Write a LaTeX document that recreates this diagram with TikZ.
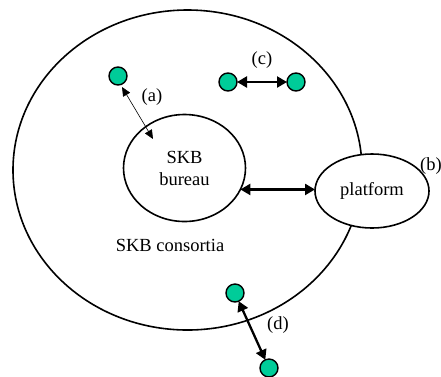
\documentclass[tikz,border=0pt]{standalone}
\usepackage{fontspec}
\setmainfont{Liberation Serif}
\usetikzlibrary{shapes.geometric,arrows.meta,calc}
\definecolor{dotgreen}{RGB}{0,204,153}
\begin{document}
\begin{tikzpicture}[x=1pt,y=-1pt,
  lbl/.style={font=\fontsize{18.5}{22}\selectfont, inner sep=0pt, align=center},
  oval/.style={ellipse, draw, line width=1.6pt, inner sep=0pt, outer sep=0pt},
  gdot/.style={circle, draw, fill=dotgreen, line width=1.4pt, minimum size=18pt, inner sep=0pt, outer sep=0pt},
  thick arrow/.style={line width=2.3pt, {Triangle[length=10pt,width=11pt]}-{Triangle[length=10pt,width=11pt]}},
  thin arrow/.style={line width=0.6pt, {Triangle[length=9pt,width=8pt]}-{Triangle[length=9pt,width=8pt]}}]
\useasboundingbox (0,0) rectangle (441,376);
\node[oval, minimum width=349pt, minimum height=320pt] (outer) at (187.5,170) {};
\node[oval, minimum width=122pt, minimum height=107pt, lbl] (bureau) at (184.5,168) {SKB\\bureau};
\node[oval, fill=white, minimum width=114pt, minimum height=74pt, lbl] (platform) at (372,191) {platform};
\node[lbl] (cons) at (170,245) {SKB consortia};
\node[gdot] (adot) at (118,76) {};
\node[gdot] (c1) at (228,82) {};
\node[gdot] (c2) at (296,82) {};
\node[gdot] (d1) at (235,293) {};
\node[gdot] (d2) at (269,368) {};
\node[lbl] (la) at (152,97) {(a)};
\node[lbl] (lb) at (431,166) {(b)};
\node[lbl] (lc) at (262,60) {(c)};
\node[lbl] (ld) at (278,325) {(d)};
\coordinate (astart) at (122,87);
\coordinate (aend) at (153,139);
\draw[thin arrow] (astart) -- (aend);
\draw[thick arrow] (c1) -- (c2);
\draw[thick arrow] (bureau.-21) -- (bureau.-21 -| platform.west);
\draw[thick arrow] (d1) -- (d2);
\end{tikzpicture}
\end{document}
